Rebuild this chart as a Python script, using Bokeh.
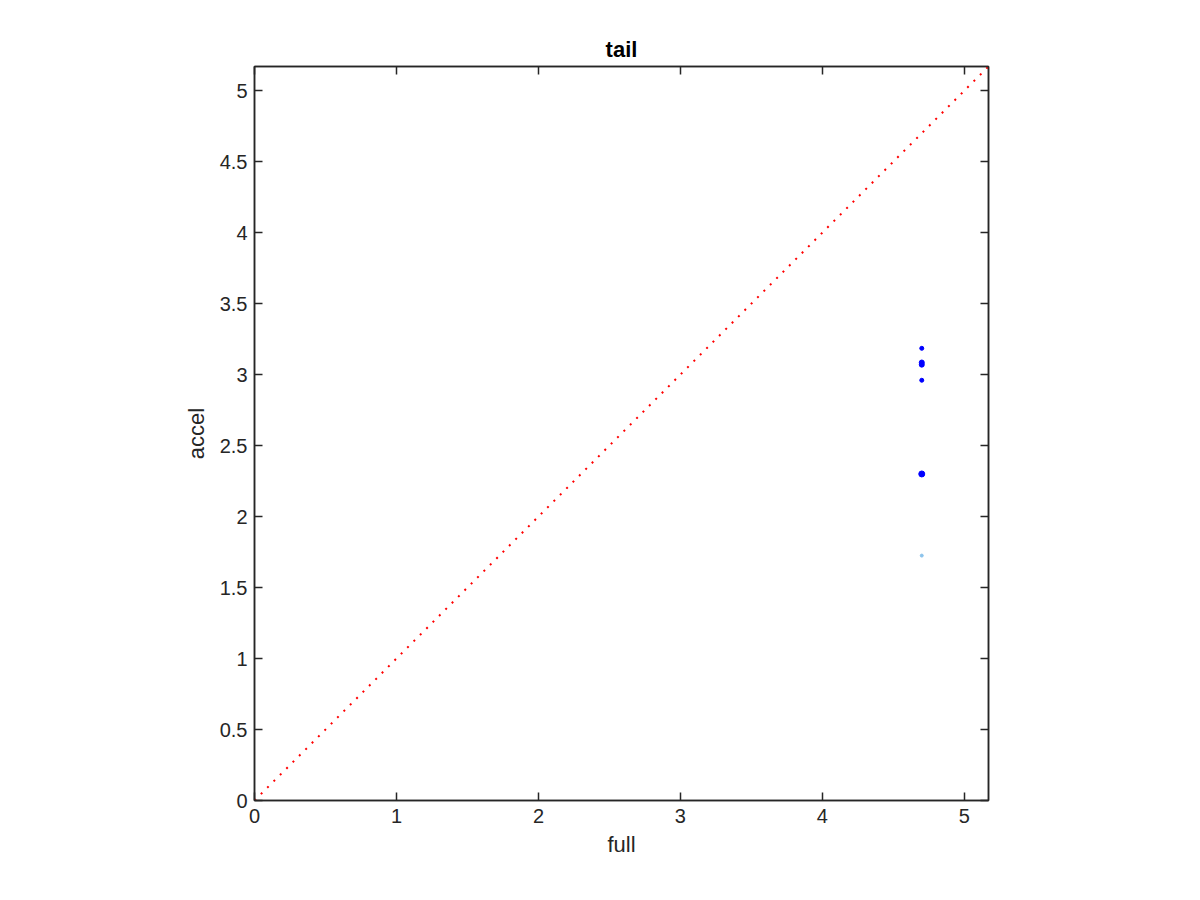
from bokeh.plotting import figure
from bokeh.models import LinearAxis, Range1d, FixedTicker
from bokeh.embed import file_html
from bokeh.resources import INLINE

# data
full_vals = [4.70, 4.70, 4.70, 4.70, 4.70, 4.70]
accel_vals = [3.185, 3.085, 3.07, 2.96, 2.30, 1.725]
point_colors = ["#0000ff", "#0000ff", "#0000ff", "#0000ff", "#0000ff", "#8cc4ec"]
point_sizes = [4, 5, 5, 4, 6, 3]
diag = [0.0, 5.17]
ticks_x = [0, 1, 2, 3, 4, 5]
ticks_y = [0, 0.5, 1, 1.5, 2, 2.5, 3, 3.5, 4, 4.5, 5]
lim = 5.17

AX = "#262626"
FONT = "Liberation Sans"

p = figure(width=1184, height=884, output_backend="svg", toolbar_location=None,
           x_range=Range1d(0, lim), y_range=Range1d(0, lim),
           min_border_left=254, min_border_right=196, min_border_top=66, min_border_bottom=84,
           title="tail")
p.title.align = "center"
p.title.text_font = FONT
p.title.text_font_size = "22px"
p.title.text_font_style = "bold"
p.title.text_color = "#000000"
p.title.standoff = 10

p.grid.visible = False
p.outline_line_color = AX
p.outline_line_width = 1.5
p.background_fill_color = "white"
p.border_fill_color = "white"

p.line(diag, diag, line_color="red", line_width=2, line_dash="2 7")
p.scatter(full_vals, accel_vals, size=point_sizes, fill_color=point_colors,
          line_color=point_colors, marker="circle")

def style(ax, ticks, labels=True):
    ax.ticker = FixedTicker(ticks=ticks)
    ax.axis_line_color = AX
    ax.axis_line_width = 1.5
    ax.major_tick_line_color = AX
    ax.major_tick_line_width = 1.5
    ax.major_tick_in = 8
    ax.major_tick_out = 0
    ax.minor_tick_line_color = None
    ax.major_label_text_font = FONT
    ax.major_label_text_font_size = "20px"
    ax.major_label_text_color = AX
    ax.axis_label_text_font = FONT
    ax.axis_label_text_font_size = "22px"
    ax.axis_label_text_font_style = "normal"
    ax.axis_label_text_color = AX
    if not labels:
        ax.major_label_overrides = {t: "" for t in ticks}
        ax.major_label_standoff = 0

style(p.xaxis[0], ticks_x)
style(p.yaxis[0], ticks_y)
p.xaxis[0].axis_label = "full"
p.yaxis[0].axis_label = "accel"
p.xaxis[0].major_label_standoff = 8
p.yaxis[0].major_label_standoff = 7
p.xaxis[0].axis_label_standoff = 6
p.yaxis[0].axis_label_standoff = 8

top = LinearAxis()
right = LinearAxis()
style(top, ticks_x, labels=False)
style(right, ticks_y, labels=False)
p.add_layout(top, "above")
p.add_layout(right, "right")

open("out.html", "w").write(file_html(p, INLINE))
